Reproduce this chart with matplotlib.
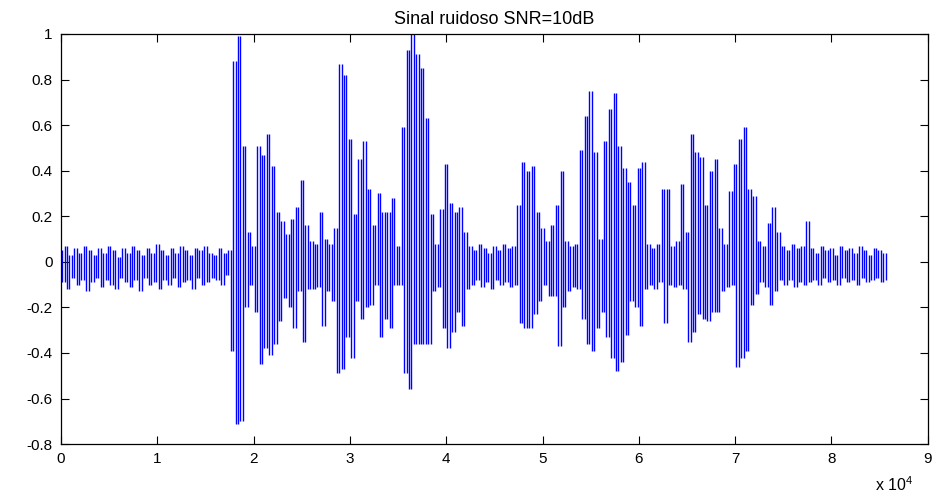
import matplotlib
matplotlib.use("Agg")
import matplotlib.pyplot as plt
import numpy as np

# peaks, one pair per 500 samples:
# upper peak at n*500, lower peak at n*500+250
step = 500
upper = [
    0.05, 0.07, 0.03, 0.06, 0.04, 0.07, 0.05, 0.03, 0.06, 0.04,
    0.07, 0.05, 0.02, 0.06, 0.04, 0.07, 0.05, 0.03, 0.06, 0.04,
    0.08, 0.05, 0.03, 0.06, 0.04, 0.07, 0.05, 0.03, 0.06, 0.05,
    0.07, 0.04, 0.03, 0.06, 0.04, 0.05, 0.88, 0.99, 0.51, 0.13,
    0.07, 0.51, 0.47, 0.56, 0.42, 0.22, 0.18, 0.12, 0.19, 0.24,
    0.36, 0.16, 0.09, 0.08, 0.22, 0.10, 0.08, 0.15, 0.87, 0.82,
    0.54, 0.21, 0.45, 0.53, 0.32, 0.16, 0.30, 0.22, 0.22, 0.28,
    0.07, 0.59, 0.93, 1.00, 0.91, 0.85, 0.63, 0.21, 0.08, 0.23,
    0.43, 0.26, 0.22, 0.24, 0.13, 0.07, 0.05, 0.08, 0.06, 0.04,
    0.07, 0.05, 0.08, 0.06, 0.07, 0.25, 0.44, 0.40, 0.42, 0.22,
    0.15, 0.09, 0.16, 0.25, 0.40, 0.09, 0.07, 0.08, 0.49, 0.64,
    0.75, 0.48, 0.10, 0.53, 0.67, 0.74, 0.51, 0.41, 0.35, 0.25,
    0.41, 0.44, 0.08, 0.06, 0.08, 0.32, 0.32, 0.07, 0.09, 0.34,
    0.13, 0.56, 0.48, 0.46, 0.25, 0.40, 0.45, 0.15, 0.08, 0.31,
    0.43, 0.54, 0.59, 0.32, 0.29, 0.09, 0.07, 0.17, 0.24, 0.13,
    0.07, 0.05, 0.08, 0.06, 0.07, 0.18, 0.06, 0.04, 0.07, 0.05,
    0.06, 0.03, 0.07, 0.05, 0.06, 0.04, 0.07, 0.05, 0.03, 0.06,
    0.05, 0.04,
]
lower = [
    -0.09, -0.12, -0.07, -0.10, -0.08, -0.13, -0.09, -0.07, -0.11, -0.08,
    -0.10, -0.12, -0.07, -0.09, -0.11, -0.08, -0.13, -0.07, -0.10, -0.09,
    -0.12, -0.08, -0.10, -0.07, -0.11, -0.09, -0.08, -0.12, -0.07, -0.10,
    -0.09, -0.07, -0.08, -0.10, -0.06, -0.39, -0.71, -0.70, -0.20, -0.10,
    -0.22, -0.45, -0.38, -0.41, -0.36, -0.26, -0.16, -0.20, -0.29, -0.13,
    -0.35, -0.12, -0.12, -0.11, -0.28, -0.13, -0.17, -0.49, -0.47, -0.33,
    -0.42, -0.17, -0.25, -0.20, -0.19, -0.10, -0.33, -0.25, -0.29, -0.10,
    -0.10, -0.49, -0.56, -0.36, -0.36, -0.36, -0.36, -0.13, -0.11, -0.29,
    -0.38, -0.31, -0.22, -0.28, -0.12, -0.10, -0.08, -0.11, -0.09, -0.12,
    -0.08, -0.10, -0.09, -0.11, -0.10, -0.27, -0.29, -0.29, -0.23, -0.17,
    -0.10, -0.15, -0.15, -0.37, -0.20, -0.13, -0.11, -0.12, -0.25, -0.36,
    -0.39, -0.29, -0.22, -0.33, -0.42, -0.48, -0.44, -0.32, -0.17, -0.20,
    -0.28, -0.12, -0.10, -0.12, -0.09, -0.27, -0.10, -0.11, -0.10, -0.12,
    -0.35, -0.31, -0.23, -0.25, -0.26, -0.22, -0.22, -0.13, -0.11, -0.10,
    -0.46, -0.42, -0.39, -0.19, -0.14, -0.09, -0.11, -0.19, -0.13, -0.08,
    -0.10, -0.08, -0.11, -0.09, -0.10, -0.09, -0.08, -0.10, -0.07, -0.09,
    -0.08, -0.10, -0.07, -0.09, -0.08, -0.10, -0.07, -0.09, -0.08, -0.07,
    -0.09, -0.08,
]

xtick_vals = [0, 1, 2, 3, 4, 5, 6, 7, 8, 9]
ytick_vals = [-0.8, -0.6, -0.4, -0.2, 0, 0.2, 0.4, 0.6, 0.8, 1]

# peaks in time order: upper, lower, upper, lower ...
n = np.arange(len(upper)) * step
x = np.empty(2 * len(upper))
y = np.empty(2 * len(upper))
x[0::2] = n
x[1::2] = n + step / 2
y[0::2] = upper
y[1::2] = lower

# every swing from one peak to the next shows as one vertical stroke
xs = (x[:-1] + x[1:]) / 2
ylo = np.minimum(y[:-1], y[1:])
yhi = np.maximum(y[:-1], y[1:])

plt.rcParams['font.family'] = ['Liberation Sans', 'DejaVu Sans']
plt.rcParams['mathtext.fontset'] = 'custom'
plt.rcParams['mathtext.rm'] = 'Liberation Sans'

fig = plt.figure(figsize=(9.39, 4.99), dpi=100)
ax = fig.add_axes([0.065, 0.110, 0.923, 0.822])
ax.vlines(xs, ylo, yhi, color=(0, 0, 1), lw=1.0)

ax.set_xlim(0, 90000)
ax.set_ylim(-0.8, 1)
ax.set_xticks([v * 1e4 for v in xtick_vals])
ax.set_xticklabels([str(v) for v in xtick_vals])
ax.set_yticks(ytick_vals)
ax.set_yticklabels(['%g' % v for v in ytick_vals])
ax.tick_params(direction='in', length=6, width=0.8, labelsize=11,
               top=True, right=True, pad=6)
for s in ax.spines.values():
    s.set_linewidth(0.9)

ax.set_title('Sinal ruidoso SNR=10dB', fontsize=13, pad=7)
fig.text(0.932, 0.028, r'x 10$^{4}$', fontsize=11.5, ha='left', va='center')

fig.savefig('out.png', dpi=100)
